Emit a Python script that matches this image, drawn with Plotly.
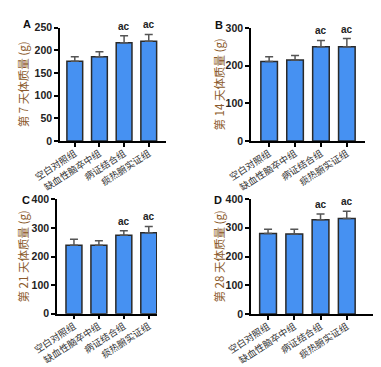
import plotly.graph_objects as go

categories = ["空白对照组", "缺血性脑卒中组", "病证结合组", "痰热腑实证组"]
day7 = [176, 186, 217, 220]
day7_err = [10, 11, 15, 15]
day14 = [211, 215, 250, 250]
day14_err = [13, 12, 17, 22]
day21 = [239, 239, 274, 283]
day21_err = [21, 16, 16, 22]
day28 = [280, 278, 328, 332]
day28_err = [15, 17, 20, 25]
sig_labels = ["", "", "ac", "ac"]
panel_letters = ["A", "B", "C", "D"]
y_titles = ["第 7 天体质量 (g)", "第 14 天体质量 (g)", "第 21 天体质量 (g)", "第 28 天体质量 (g)"]
y_ranges = [[0, 250], [0, 300], [0, 400], [0, 400]]
y_dticks = [50, 100, 100, 100]

series = [(day7, day7_err), (day14, day14_err), (day21, day21_err), (day28, day28_err)]

# page body has a default 8px margin; size figure to fit the 381x367 window
OFF = 8
W, H = 381 - OFF, 367 - OFF


def px(x):
    return (x - OFF) / W


def py(y):
    return (H - (y - OFF)) / H


xdoms = [[60, 166], [251, 365], [57, 157], [251, 373]]
ydoms = [[27.7, 141], [28, 141], [199.3, 313.7], [199, 314]]
xranges = [[-0.6, 3.7], [-0.7, 3.7], [-0.68, 3.33], [-0.65, 4.0]]
title_x = [23, 218, 22, 218]
letter_pos = [(27, 24), (219, 25), (26, 200), (218, 200)]

BAR = "#4691F2"
fig = go.Figure()
layout = dict(width=W, height=H, margin=dict(l=0, r=0, t=0, b=0, autoexpand=False),
              plot_bgcolor="white", paper_bgcolor="white", showlegend=False,
              bargap=0.35, annotations=[])

for i, (vals, errs) in enumerate(series):
    xa = "x" if i == 0 else f"x{i+1}"
    ya = "y" if i == 0 else f"y{i+1}"
    fig.add_trace(go.Bar(
        x=categories, y=vals, xaxis=xa, yaxis=ya, width=0.64,
        marker=dict(color=BAR, line=dict(color="#2a2a2a", width=1.5)),
        error_y=dict(type="data", symmetric=False, array=errs, arrayminus=[0]*4,
                     color="#555555", thickness=1.5, width=4),
    ))
    xkey = "xaxis" if i == 0 else f"xaxis{i+1}"
    ykey = "yaxis" if i == 0 else f"yaxis{i+1}"
    layout[xkey] = dict(
        domain=[px(xdoms[i][0]), px(xdoms[i][1])], anchor=ya, automargin=False,
        range=xranges[i], showline=True, linecolor="black", linewidth=1.5,
        ticks="outside", ticklen=4, tickwidth=1.5, tickcolor="black",
        tickangle=-33, showgrid=False, zeroline=False, ticklabelstandoff=-2,
        tickfont=dict(family="Noto Sans CJK SC", size=9.4, color="#333333"),
    )
    layout[ykey] = dict(
        domain=[py(ydoms[i][1]), py(ydoms[i][0])], anchor=xa, automargin=False,
        range=y_ranges[i], dtick=y_dticks[i], showline=True, linecolor="black",
        linewidth=1.5, ticks="outside", ticklen=4, tickwidth=1.5, tickcolor="black",
        showgrid=False, zeroline=False,
        tickfont=dict(family="Liberation Sans", size=10.5, color="#222222", weight="bold"),
    )
    # y title
    layout["annotations"].append(dict(
        text=y_titles[i], xref="paper", yref="paper",
        x=px(title_x[i]), y=py((ydoms[i][0] + ydoms[i][1]) / 2),
        textangle=-90, showarrow=False, xanchor="center", yanchor="middle",
        font=dict(family="Noto Sans CJK SC", size=11.5, color="#8B5A2B"),
    ))
    # panel letter
    lx, ly = letter_pos[i]
    layout["annotations"].append(dict(
        text=panel_letters[i], xref="paper", yref="paper",
        x=px(lx), y=py(ly), showarrow=False, xanchor="center", yanchor="middle",
        font=dict(family="Liberation Sans", size=11, color="#111111", weight="bold"),
    ))
    # significance labels
    for c, v, e, s in zip(categories, vals, errs, sig_labels):
        if s:
            layout["annotations"].append(dict(
                text=s, x=c, y=v + e, xref=xa, yref=ya, showarrow=False,
                yanchor="bottom", yshift=2,
                font=dict(family="Liberation Sans", size=10, color="#222222", weight="bold"),
            ))

fig.update_layout(**layout)
fig.write_html("out.html")
